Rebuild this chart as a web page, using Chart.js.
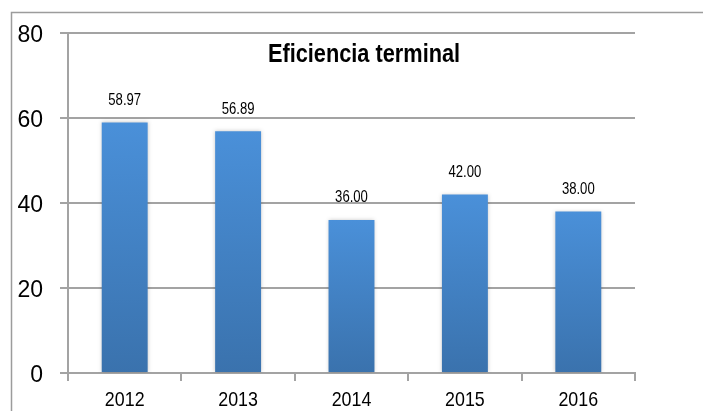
<!DOCTYPE html>
<html>
<head>
<meta charset="utf-8">
<script src="https://cdn.jsdelivr.net/npm/chart.js@4/dist/chart.umd.min.js"></script>
<style>
  html, body { margin: 0; padding: 0; background: #fff; }
  #wrap { width: 703px; height: 411px; position: relative; }
</style>
</head>
<body>
<div id="wrap"><canvas id="chart" width="703" height="411"></canvas></div>
<script>
const years = ['2012', '2013', '2014', '2015', '2016'];
const eficiencia = [58.97, 56.89, 36.00, 42.00, 38.00];
const yTicks = [0, 20, 40, 60, 80];
const chartTitle = 'Eficiencia terminal';

const FONT = '"Liberation Sans", Arial, sans-serif';
const GRID = '#a3a3a3';

// bar fill: lighter blue on top, darker at the base, per bar
function barGradient(context) {
    const chart = context.chart;
    const { ctx, chartArea, scales } = chart;
    if (!chartArea) return '#4a8fd6';
    const top = scales.y.getPixelForValue(context.raw);
    const bottom = scales.y.getPixelForValue(0);
    const g = ctx.createLinearGradient(0, top, 0, bottom);
    g.addColorStop(0, '#4a90d9');
    g.addColorStop(1, '#3a72ad');
    return g;
}

// the reference uses a condensed face, so squeeze the text horizontally
function narrowText(ctx, text, x, y, squeeze) {
    ctx.save();
    ctx.translate(x, y);
    ctx.scale(squeeze, 1);
    ctx.fillText(text, 0, 0);
    ctx.restore();
}

const framePlugin = {
    id: 'frame',
    beforeDraw: (chart) => {
        const ctx = chart.ctx;
        ctx.save();
        ctx.strokeStyle = '#9c9c9c';
        ctx.lineWidth = 1.5;
        ctx.beginPath();
        ctx.moveTo(11.5, chart.height);
        ctx.lineTo(11.5, 12.5);
        ctx.lineTo(chart.width, 12.5);
        ctx.stroke();
        ctx.restore();
    },
    beforeDatasetsDraw: (chart) => {
        chart.ctx.save();
        chart.ctx.shadowColor = 'rgba(0,0,0,0.22)';
        chart.ctx.shadowBlur = 4;
    },
    afterDatasetsDraw: (chart) => {
        chart.ctx.restore();
        const { ctx, scales } = chart;
        const meta = chart.getDatasetMeta(0);

        ctx.save();
        ctx.fillStyle = '#000';
        ctx.textAlign = 'center';
        ctx.textBaseline = 'middle';

        // value labels above the bars
        ctx.font = '16px ' + FONT;
        meta.data.forEach((bar, i) => {
            narrowText(ctx, eficiencia[i].toFixed(2), bar.x, bar.y - 22, 0.82);
        });

        // category labels under the axis
        ctx.font = '21px ' + FONT;
        years.forEach((yr, i) => {
            narrowText(ctx, yr, scales.x.getPixelForValue(i), 400, 0.85);
        });

        // title sits inside the plot area
        ctx.font = 'bold 25px ' + FONT;
        narrowText(ctx, chartTitle, 364, 55, 0.87);
        ctx.restore();
    },
};

new Chart(document.getElementById('chart'), {
    type: 'bar',
    data: {
        labels: years,
        datasets: [{
            data: eficiencia,
            backgroundColor: barGradient,
            borderWidth: 0,
            categoryPercentage: 1,
            barPercentage: 0.405,
        }],
    },
    options: {
        responsive: false,
        animation: false,
        layout: { padding: { left: 11, top: 33, right: 68, bottom: 0 } },
        plugins: {
            legend: { display: false },
            tooltip: { enabled: false },
            title: { display: false },
        },
        scales: {
            x: {
                offset: true,
                afterFit: (scale) => { scale.height = 38; },
                grid: {
                    offset: true,
                    drawOnChartArea: false,
                    color: GRID,
                    lineWidth: 2,
                    tickLength: 8,
                },
                border: { color: GRID, width: 2 },
                ticks: {
                    color: 'rgba(0,0,0,0)',
                    padding: 6,
                    font: { family: FONT, size: 21 },
                },
            },
            y: {
                min: 0,
                max: 80,
                afterFit: (scale) => { scale.width = 57; },
                afterBuildTicks: (scale) => {
                    scale.ticks = yTicks.map((v) => ({ value: v }));
                },
                grid: {
                    color: GRID,
                    lineWidth: 2,
                    tickLength: 8,
                },
                border: { color: GRID, width: 2 },
                ticks: {
                    color: '#000',
                    padding: 17,
                    labelOffset: 3,
                    font: { family: FONT, size: 23 },
                },
            },
        },
    },
    plugins: [framePlugin],
});
</script>
</body>
</html>
